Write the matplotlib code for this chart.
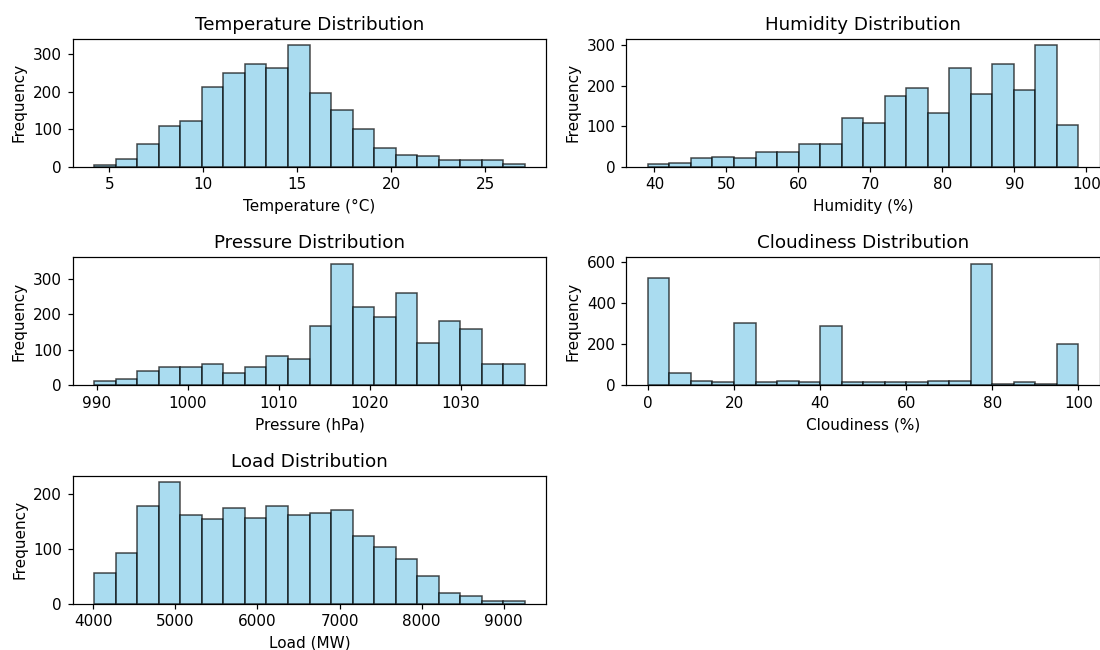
import numpy as np
import matplotlib
matplotlib.use("Agg")
import matplotlib.pyplot as plt

# Binned weather/load observations: (low edge, high edge) and the 20 bin counts
temp_range = (4.2, 27.1)
temp_counts = [4, 20, 60, 110, 122, 213, 250, 275, 263, 325,
               197, 152, 102, 49, 31, 28, 19, 19, 19, 7]

humidity_range = (39.1, 98.9)
humidity_counts = [7, 10, 22, 25, 21, 37, 37, 56, 56, 121,
                   109, 175, 193, 133, 243, 179, 254, 189, 300, 102]

pressure_range = (989.7, 1037.0)
pressure_counts = [12, 18, 40, 52, 52, 61, 34, 52, 84, 75,
                   167, 344, 220, 194, 260, 119, 181, 159, 61, 61]

cloud_range = (0.0, 100.0)
cloud_counts = [523, 59, 21, 15, 304, 15, 21, 15, 288, 15,
                15, 15, 15, 21, 21, 592, 5, 15, 5, 203]

load_range = (4013.0, 9256.0)
load_counts = [56, 92, 179, 222, 162, 154, 174, 157, 179, 162,
               165, 171, 123, 104, 81, 50, 19, 14, 5, 5]

panels = [
    ("Temperature Distribution", "Temperature (°C)", temp_range, temp_counts),
    ("Humidity Distribution", "Humidity (%)", humidity_range, humidity_counts),
    ("Pressure Distribution", "Pressure (hPa)", pressure_range, pressure_counts),
    ("Cloudiness Distribution", "Cloudiness (%)", cloud_range, cloud_counts),
    ("Load Distribution", "Load (MW)", load_range, load_counts),
]

DPI = 110
fig, axes = plt.subplots(3, 2, figsize=(1100 / DPI, 650 / DPI), dpi=DPI)
fig.subplots_adjust(left=0.0661, right=1.0, top=0.94, bottom=0.0712,
                    hspace=0.71, wspace=0.169)
axes = axes.ravel()

for ax, (title, xlabel, (lo, hi), counts) in zip(axes, panels):
    edges = np.linspace(lo, hi, len(counts) + 1)
    centers = (edges[:-1] + edges[1:]) / 2
    ax.hist(centers, bins=edges, weights=counts, color="skyblue",
            edgecolor="black", alpha=0.7)
    ax.set_title(title, fontsize=12)
    ax.set_xlabel(xlabel)
    ax.set_ylabel("Frequency")

axes[-1].axis("off")

fig.savefig("out.png", dpi=DPI)
